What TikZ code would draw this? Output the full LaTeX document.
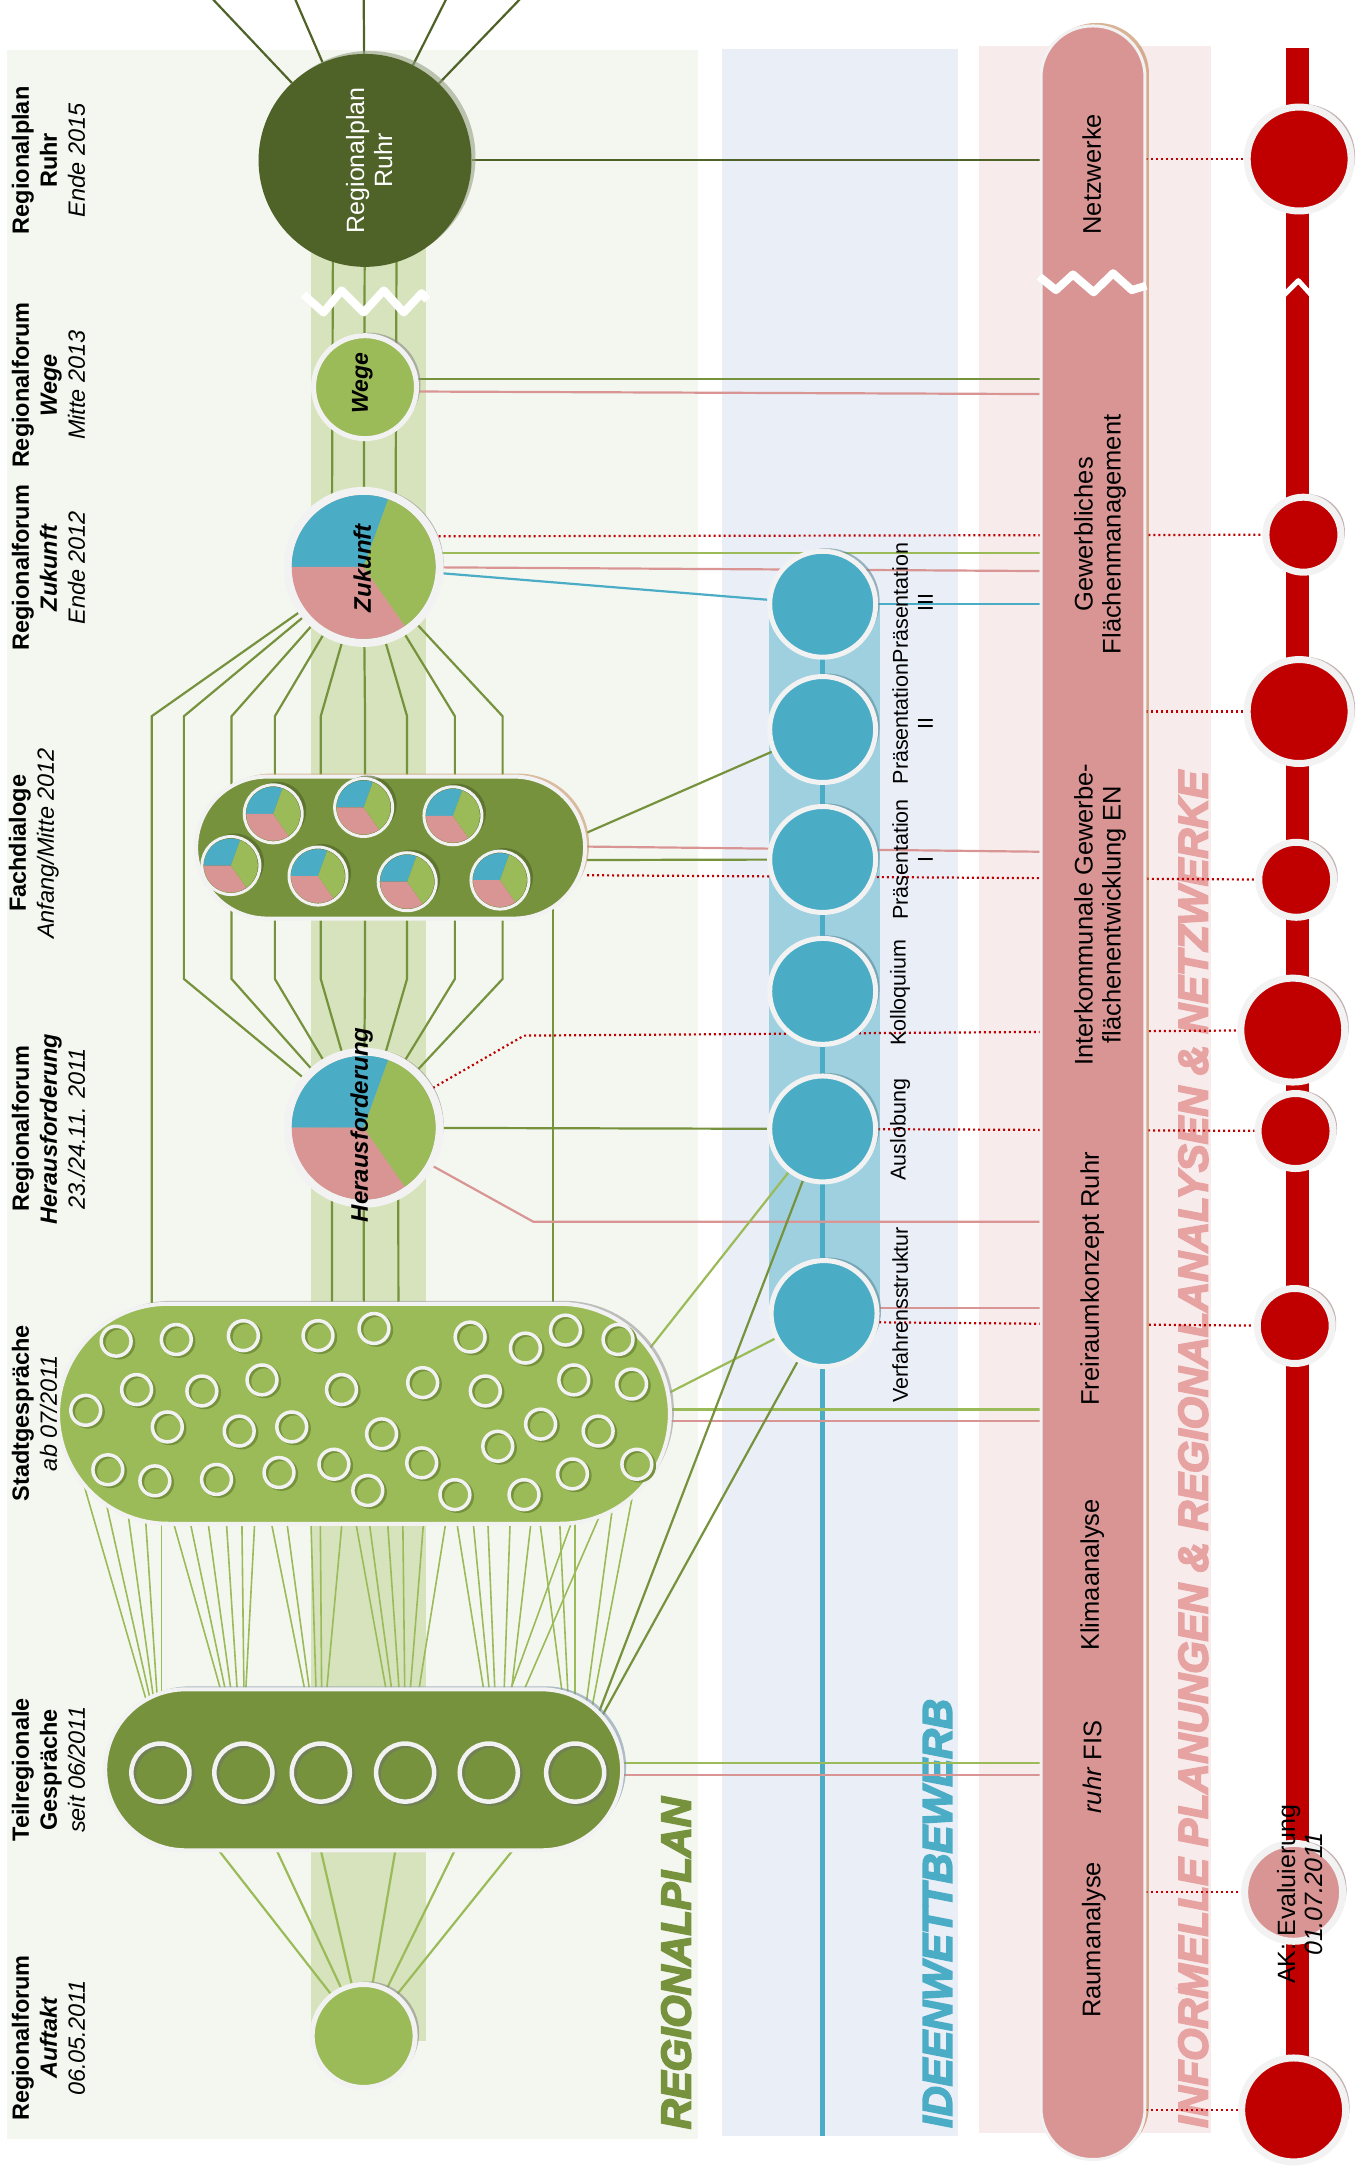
\documentclass[tikz,border=0pt]{standalone}
\usepackage{fontspec}
\setmainfont{Liberation Sans}
\usetikzlibrary{positioning,shapes.misc,shadows}

\definecolor{rpdark}{HTML}{4F6228}
\definecolor{rpolive}{HTML}{76923C}
\definecolor{rplight}{HTML}{9BBB59}
\definecolor{rpband}{HTML}{D6E3BC}
\definecolor{rppanel}{HTML}{F4F7F0}
\definecolor{iwblue}{HTML}{4BACC6}
\definecolor{iwband}{HTML}{9ED0E0}
\definecolor{iwpanel}{HTML}{EAEFF7}
\definecolor{ipink}{HTML}{D99594}
\definecolor{ipanel}{HTML}{F7EBEB}
\definecolor{ititle}{HTML}{E6A3A2}
\definecolor{tlred}{HTML}{C00000}
\definecolor{ringwhite}{HTML}{F2F2F2}
\definecolor{regshadow}{HTML}{96A082}
\definecolor{blueshadow}{HTML}{5F8A99}
\definecolor{redshadow}{HTML}{9E7F7F}
\definecolor{fachshadow}{HTML}{C8956A}
\definecolor{teilshadow}{HTML}{7F93A8}
\definecolor{barshadow}{HTML}{C08050}

% heavier strokes for the column titles
\newcommand{\heavy}[1]{\special{pdf:code 2 Tr 1.8 w}#1\special{pdf:code 0 Tr}}

\pgfdeclarelayer{back}
\pgfdeclarelayer{mid}
\pgfsetlayers{back,mid,main}

\tikzset{
  castshadow/.style={drop shadow={shadow xshift=4pt, shadow yshift=3pt, fill=#1, opacity=.6}},
  roundnode/.style={circle, draw=ringwhite, line width=5pt, inner sep=0pt},
  pienode/.style={roundnode, line width=8pt, minimum size=152pt, castshadow=black!45},
  capsule/.style={rounded rectangle, draw=ringwhite, line width=4pt, inner sep=0pt},
  bluenode/.style={roundnode, fill=iwblue, line width=5pt, minimum size=106pt, castshadow=blueshadow},
  rednode/.style={roundnode, fill=tlred, line width=7pt, castshadow=redshadow},
  minipie/.style={roundnode, line width=3pt, minimum size=58pt, castshadow=rpdark},
  infobar/.style={rectangle, rounded corners=51pt, fill=ipink, draw=ringwhite, line width=3pt, inner sep=0pt,
    minimum width=104pt, minimum height=2134pt, castshadow=barshadow},
  sidelabel/.style={rotate=90, align=center, font=\fontsize{23.5}{28}\selectfont},
  circlelabel/.style={rotate=90, align=center, font=\fontsize{24}{28}\selectfont\bfseries\itshape},
  bluelabel/.style={rotate=90, align=center, font=\fontsize{21.5}{25}\selectfont},
  bartext/.style={rotate=90, align=center, font=\fontsize{25.5}{28}\selectfont},
  bigtitle/.style={rotate=90, anchor=west, inner sep=0pt, font=\fontsize{41.5}{44}\selectfont\bfseries\itshape},
  link/.style={line width=2.2pt},
  fanline/.style={rplight, line width=1.6pt, shorten <=-50pt, shorten >=-30pt},
  dotline/.style={tlred, line width=2.2pt, dash pattern=on 2pt off 3pt},
}

\newcommand{\drawpie}[2]{%
  \fill[iwblue] (#1.center) -- ++(-70:#2) arc[start angle=-70, end angle=-180, radius=#2] -- cycle;
  \fill[ipink] (#1.center) -- ++(-180:#2) arc[start angle=-180, end angle=-305, radius=#2] -- cycle;
  \fill[rplight] (#1.center) -- ++(-305:#2) arc[start angle=-305, end angle=-430, radius=#2] -- cycle;
}

\begin{document}
\begin{tikzpicture}[x=1.383pt, y=-1.383pt]
\useasboundingbox (0,0) rectangle (984,1568);

% Regionalplan column
\node[circle, inner sep=0pt, fill=rpdark, minimum size=213pt, castshadow=regshadow] (reg) at (264,116) {};
\node[roundnode, fill=rplight, minimum size=103pt, castshadow=black!45] (wege) at (264,280) {};
\node[pienode] (zuk) at (263,410) {};
\drawpie{zuk}{52}
\node[capsule, fill=rpolive, minimum width=389pt, minimum height=142pt, castshadow=fachshadow] (fach) at (282.5,613) {};
\foreach \n/\x/\y in {1/197.6/588.6, 2/263/584, 3/327.6/590, 4/167/626, 5/230/633.6, 6/294.5/637.7, 7/361.6/636.5}{
  \node[minipie] (mp\n) at (\x,\y) {};
  \drawpie{mp\n}{19.5}
}
\node[pienode] (herf) at (263,815.6) {};
\drawpie{herf}{52}
\node[capsule, fill=rplight, minimum width=612pt, minimum height=220pt, castshadow=black!40] (stadt) at (263.25,1022.5) {};
\foreach \x/\y in {84/970, 127.5/968.8, 176/966, 230/966, 270.5/960.8, 340/967, 380/975, 409/962, 447/968.8,
  62/1020, 98.8/1005, 146/1006, 189.5/998, 247/1005, 305.7/1000, 351/1006, 415/998, 456.8/1001,
  121/1032, 173/1035, 211/1032, 276/1037, 360/1046, 391/1030, 432.6/1035,
  78/1063, 112/1071, 156.6/1070, 201.8/1065, 241.5/1059, 266/1078, 305/1058, 329/1081, 379/1081, 414/1066, 460.6/1059}{
  \draw[rpolive, line width=3.5pt] (\x+1.8,\y+1.2) circle[radius=10.8];
  \draw[ringwhite, line width=3.5pt] (\x,\y) circle[radius=10.8];
}
\node[capsule, fill=rpolive, minimum width=517pt, minimum height=161pt, castshadow=teilshadow] (teil) at (263,1280) {};
\foreach \x in {116,176,232,293,353.5,416}{
  \draw[rpdark!80, line width=4.5pt] (\x+2,1283.5) circle[radius=21];
  \draw[ringwhite, line width=4.5pt] (\x,1282) circle[radius=21];
}
\node[roundnode, fill=rplight, minimum size=103pt, castshadow=black!45] (auft) at (263,1472.5) {};

% Ideenwettbewerb column
\node[bluenode] (prs3) at (595,437) {};
\node[bluenode] (prs2) at (595,527.6) {};
\node[bluenode] (prs1) at (595,621.6) {};
\node[bluenode] (koll) at (595,717) {};
\node[bluenode] (ausl) at (595,816.5) {};
\node[bluenode] (verf) at (596,950) {};

% informelle Planungen
\node[infobar] (infobar) at (790.5,790.3) {};

% timeline
\node[rednode, minimum size=104pt] (rc1) at (939.6,115) {};
\node[rednode, minimum size=75pt] (rc2) at (942.7,386.7) {};
\node[rednode, minimum size=104pt] (rc3) at (939.6,514.6) {};
\node[rednode, minimum size=75pt] (rc4) at (937.5,636.3) {};
\node[rednode, minimum size=104pt] (rc5) at (935,745) {};
\node[rednode, minimum size=75pt] (rc6) at (937,818) {};
\node[rednode, minimum size=75pt] (rc7) at (936.4,959) {};
\node[rednode, fill=ipink, minimum size=98pt] (eval) at (935.6,1368.6) {};
\node[rednode, minimum size=104pt] (rc9) at (935.6,1526) {};

\begin{pgfonlayer}{back}
\fill[rppanel] (5,36) rectangle (505,1547);
\fill[iwpanel] (522,35.5) rectangle (693,1545);
\fill[ipanel] (708,33) rectangle (876,1543);
\fill[rpband] (225,160) rectangle (308,1476);
\fill[iwband] (556.5,437) rectangle (636.6,957);
\draw[iwblue, line width=5.4pt] (prs3.center) -- (prs3.center |- 0,1545);
\fill[tlred] (930,35) rectangle (947,1530);
\node[bigtitle, text=rpolive] (rptitle) at (489,1540) {\heavy{REGIONALPLAN}};
\node[bigtitle, text=iwblue] (iwtitle) at (678,1539) {\heavy{IDEENWETTBEWERB}};
\node[bigtitle, text=ititle] (iptitle) at (863,1539) {\heavy{INFORMELLE PLANUNGEN \& REGIONALANALYSEN \& NETZWERKE}};
\end{pgfonlayer}

\begin{pgfonlayer}{mid}
% Regionalplan Ruhr
\foreach \x in {150.7,212,263,324.4,379.3}
  \draw[link, rpdark] (reg) -- (\x,-4);
\foreach \dx in {-23,0,23}
  \draw[link, rpolive] ([xshift=\dx*1.383pt]reg.center) -- ([xshift=\dx*1.383pt]zuk.center);
\draw[link, rpdark] (reg) -- (reg -| infobar.west);
\draw[dotline] (rc1 -| infobar.east) -- (rc1);
% Wege
\draw[link, rpolive] (wege |- 0,274) -- (infobar.west |- 0,274);
\draw[link, ipink] (wege |- 0,283) -- (infobar.west |- 0,285);
% Zukunft
\draw[dotline] (zuk |- 0,388) -- (rc2);
\draw[link, rplight] (zuk |- 0,400) -- (infobar.west |- 0,400);
\draw[link, ipink] (zuk |- 0,410) -- (infobar.west |- 0,413);
\draw[link, iwblue] (zuk) -- (prs3);
\draw[link, iwblue] (prs3) -- (prs3 -| infobar.west);
\draw[dotline] (rc3 -| infobar.east) -- (rc3);
\foreach \x in {133,167.5,198.8,232,264,294.4,329,363.5}
  \draw[link, rpolive] (zuk) -- (\x,518) -- (\x,708) -- (herf);
\draw[link, rpolive] (zuk) -- (109.7,518) -- (109.7,990);
% Fachdialoge
\draw[link, rpolive] (fach.center -| 400,0) -- (stadt.center -| 400,0);
\draw[link, rpolive] ([yshift=15pt]fach.east) -- (prs2);
\draw[link, ipink] ([yshift=1pt]fach.east) -- (infobar.west |- 0,616);
\draw[link, rpolive] (fach.east |- 0,622) -- (prs1);
\draw[dotline] (fach.east |- 0,633) -- (rc4);
% Herausforderung
\draw[dotline] (herf) -- (379,749) -- (rc5);
\draw[link, rpolive] (herf) -- (ausl);
\draw[dotline] (ausl) -- (rc6);
\draw[link, ipink] (herf) -- (385.7,883.6) -- (infobar.west |- 0,883.6);
\foreach \dx in {-23,0,25}
  \draw[link, rpolive] ([xshift=\dx*1.383pt]herf.center) -- ([xshift=\dx*1.383pt]stadt.center);
% Verfahrensstruktur
\draw[link, ipink] (verf |- 0,946) -- (infobar.west |- 0,946);
\draw[dotline] (verf |- 0,956) -- (rc7);
% Stadtgespraeche
\draw[link, rplight] (stadt.13) -- (ausl);
\draw[link, rplight] (stadt.4) -- (verf);
\draw[link, rplight] (stadt |- 0,1019.4) -- (infobar.west |- 0,1019.4);
\draw[link, ipink] (stadt |- 0,1027.8) -- (infobar.west |- 0,1027.8);
\foreach \a/\b in {69.7/103, 80.8/106.6, 94/109.9, 105.7/113.2, 116.8/116.8,
  126.5/159, 138.4/162.5, 151/166.7, 164/171.4, 175/176.4, 184/177.9,
  197/220, 208/223.5, 225/228.5, 231.7/232.6, 247/236.5,
  258/278.9, 267.6/283, 280.6/288.5, 291.4/292.7, 306/296.9, 321.8/303.3,
  331/349.5, 342.6/353.6, 353/357.8, 368.8/364.7, 383.6/370.2, 411.9/370, 429.9/380,
  391/406, 405/410.5, 416/416, 441/425.6, 453/431}
  \draw[fanline] (\a,1105) -- (\b,1220);
% Teilregionale Gespraeche
\draw[link, rpolive] (teil.14) -- (ausl);
\draw[link, rpolive] (teil.13) -- (verf);
\draw[link, rplight] (teil |- 0,1275) -- (infobar.west |- 0,1275);
\draw[link, ipink] (teil |- 0,1283.5) -- (infobar.west |- 0,1283.5);
\draw[dotline] (eval -| infobar.east) -- (eval);
% Auftakt
\foreach \x in {158,200,232,286,329,371}
  \draw[link, rplight, shorten >=-12pt] (auft) -- (\x,1338);
\draw[dotline] (rc9 -| infobar.east) -- (rc9);
\end{pgfonlayer}

% breaks
\draw[white, line width=8pt, line join=round] (219.5,213) -- (234,226) -- (247,210) -- (263,226) -- (277.6,210) -- (292,226) -- (305,212) -- (309,217);
\draw[white, line width=8pt, line join=round] (751.6,200) -- (763.7,209.8) -- (776,198.5) -- (791,211.4) -- (805,197.6) -- (818.6,209.8) -- (829,206.6);
\draw[white, line width=5pt, line join=round] (928,214) -- (939,203) -- (949,214);

% labels
\node[rotate=90, align=center, text=white, font=\fontsize{25}{28}\selectfont] (reglabel) at (267,116) {Regionalplan\\Ruhr};
\node[circlelabel, font=\fontsize{23}{28}\selectfont\bfseries\itshape] (wegelabel) at (262,277) {Wege};
\node[circlelabel] (zuklabel) at (262,411) {Zukunft};
\node[circlelabel] (herflabel) at (261.5,813.5) {Herausforderung};

\node[sidelabel] (lreg) at (35,116) {\textbf{Regionalplan}\\\textbf{Ruhr}\\\textit{Ende 2015}};
\node[sidelabel] (lwege) at (35,278.5) {\textbf{Regionalforum}\\\textbf{\textit{Wege}}\\\textit{Mitte 2013}};
\node[sidelabel] (lzuk) at (35,410.6) {\textbf{Regionalforum}\\\textbf{\textit{Zukunft}}\\\textit{Ende 2012}};
\node[sidelabel] (lfach) at (24.5,610) {\textbf{Fachdialoge}\\\textit{Anfang/Mitte 2012}};
\node[sidelabel] (lherf) at (35,816.5) {\textbf{Regionalforum}\\\textbf{\textit{Herausforderung}}\\\textit{23./24.11. 2011}};
\node[sidelabel] (lstadt) at (25,1022) {\textbf{Stadtgespräche}\\\textit{ab 07/2011}};
\node[sidelabel] (lteil) at (35,1280) {\textbf{Teilregionale}\\\textbf{Gespräche}\\\textit{seit 06/2011}};
\node[sidelabel] (lauft) at (35,1474) {\textbf{Regionalforum}\\\textbf{\textit{Auftakt}}\\\textit{06.05.2011}};

\node[bluelabel] (lprs3) at (660,436) {Präsentation\\III};
\node[bluelabel] (lprs2) at (660,523.6) {Präsentation\\II};
\node[bluelabel] (lprs1) at (660,621.7) {Präsentation\\I};
\node[bluelabel] (lkoll) at (651,718) {Kolloquium};
\node[bluelabel] (lausl) at (651,817) {Auslobung};
\node[bluelabel] (lverf) at (651,951) {Verfahrensstruktur};

\node[bartext] (tnetz) at (789.6,126) {Netzwerke};
\node[bartext] (tgew) at (795.5,386.5) {Gewerbliches\\Flächenmanagement};
\node[bartext] (tinter) at (795.5,661.5) {Interkommunale Gewerbe-\\flächenentwicklung EN};
\node[bartext] (tfrei) at (790,925) {Freiraumkonzept Ruhr};
\node[bartext] (tklima) at (790,1139) {Klimaanalyse};
\node[bartext] (tfis) at (790,1278) {\textit{ruhr} FIS};
\node[bartext] (traum) at (791,1403) {Raumanalyse};

\node[rotate=90, align=center, font=\fontsize{25}{27}\selectfont] (evallabel) at (940,1370) {AK: Evaluierung\\\textit{01.07.2011}};
\end{tikzpicture}
\end{document}
